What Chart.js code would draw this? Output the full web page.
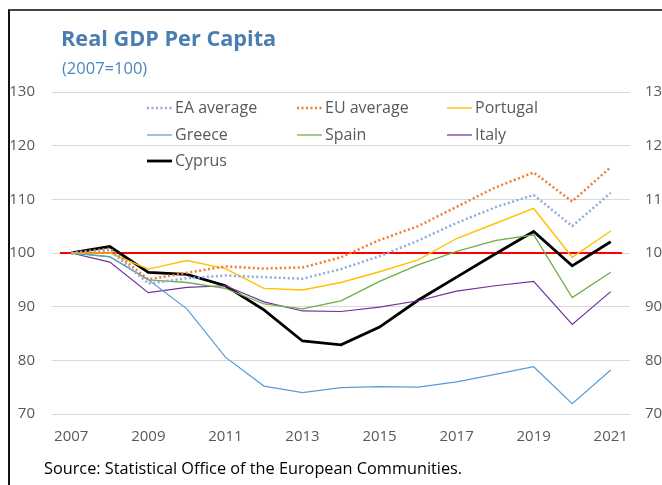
<!DOCTYPE html>
<html>
<head>
<meta charset="utf-8">
<script src="https://cdn.jsdelivr.net/npm/chart.js@4.4.1/dist/chart.umd.min.js"></script>
<style>
  html, body { margin: 0; padding: 0; background: #fff; overflow: hidden; }
  #wrap { position: relative; width: 662px; height: 485px; }
  #frame { position: absolute; left: 8px; top: 9px; width: 660px; height: 480px;
           border-left: 2px solid #111; border-top: 2px solid #444; }
  #title { position: absolute; left: 61px; top: 23px; font: bold 21.7px "Open Sans", sans-serif; color: #4a7eb0; }
  #subtitle { position: absolute; left: 62px; top: 56px; font: 16.5px "Open Sans", sans-serif; color: #4f86bf; }
  #source { position: absolute; left: 44px; top: 457px; font: 16.3px "Open Sans", sans-serif; color: #000; }
  canvas { position: absolute; left: 0; top: 0; }
</style>
</head>
<body>
<div id="wrap">
  <div id="frame"></div>
  <canvas id="chart" width="662" height="485"></canvas>
  <div id="title">Real GDP Per Capita</div>
  <div id="subtitle">(2007=100)</div>
  <div id="source">Source: Statistical Office of the European Communities.</div>
</div>
<script>
// years on the x axis
const years = ['2007','2008','2009','2010','2011','2012','2013','2014','2015','2016','2017','2018','2019','2020','2021'];

// index values, 2007 = 100
const eaAverage = [100, 100.5, 94.3, 95.3, 95.8, 95.5, 95.2, 97.0, 99.4, 102.3, 105.6, 108.5, 110.8, 105.0, 111.2];
const euAverage = [100, 100.8, 95.1, 96.3, 97.5, 97.1, 97.3, 99.2, 102.4, 105.0, 108.6, 112.2, 115.0, 109.6, 116.0];
const portugal  = [100, 100.0, 97.0, 98.6, 97.1, 93.4, 93.1, 94.5, 96.5, 98.7, 102.7, 105.5, 108.3, 99.2, 104.1];
const greece    = [100, 99.3, 95.0, 89.6, 80.6, 75.2, 74.0, 74.9, 75.1, 75.0, 76.0, 77.4, 78.8, 71.9, 78.2];
const spain     = [100, 99.3, 95.0, 94.5, 93.4, 90.5, 89.6, 91.1, 94.7, 97.8, 100.3, 102.3, 103.4, 91.7, 96.4];
const italy     = [100, 98.3, 92.6, 93.6, 93.9, 90.9, 89.2, 89.1, 89.9, 91.1, 92.9, 93.9, 94.7, 86.7, 92.8];
const cyprus    = [100, 101.2, 96.4, 96.0, 93.9, 89.4, 83.6, 82.9, 86.2, 91.2, 95.5, 99.8, 104.0, 97.6, 102.1];

const baseline = 100;
const yTicks = [70, 80, 90, 100, 110, 120, 130];

const font = '"Open Sans", sans-serif';
const gray = '#595959';

function series(label, data, color, width, dotted) {
    return {
        label: label,
        data: data,
        borderColor: color,
        backgroundColor: color,
        borderWidth: width,
        borderDash: dotted ? [2, 2.5] : [],
        pointRadius: 0,
        tension: 0,
        fill: false
    };
}

const datasets = [
    series('EA average', eaAverage, '#8faadc', 2.5, true),
    series('EU average', euAverage, '#ed7d31', 2.5, true),
    series('Portugal', portugal, '#ffc000', 1.4, false),
    series('Greece', greece, '#5b9bd5', 1.2, false),
    series('Spain', spain, '#70ad47', 1.3, false),
    series('Italy', italy, '#7030a0', 1.2, false),
    series('Cyprus', cyprus, '#000000', 2.8, false)
];

// red reference line at 100
const baselinePlugin = {
    id: 'baseline',
    beforeDatasetsDraw(chart) {
        const ctx = chart.ctx;
        const area = chart.chartArea;
        const y = chart.scales.y.getPixelForValue(baseline);
        ctx.save();
        ctx.strokeStyle = '#ff0000';
        ctx.lineWidth = 2;
        ctx.beginPath();
        ctx.moveTo(area.left + 8, y);
        ctx.lineTo(area.right - 8, y);
        ctx.stroke();
        ctx.restore();
    }
};

// legend in a 3 column grid inside the plot
const gridLegend = {
    id: 'gridLegend',
    afterDraw(chart) {
        const ctx = chart.ctx;
        const cols = [147, 297, 447];
        const rows = [108, 135, 161];
        ctx.save();
        ctx.font = '16px ' + font;
        ctx.textBaseline = 'middle';
        ctx.fillStyle = gray;
        chart.data.datasets.forEach((ds, i) => {
            const x = cols[i % 3];
            const y = rows[Math.floor(i / 3)];
            ctx.strokeStyle = ds.borderColor;
            ctx.lineWidth = ds.borderWidth;
            ctx.setLineDash(ds.borderDash);
            ctx.beginPath();
            ctx.moveTo(x, y);
            ctx.lineTo(x + 25, y);
            ctx.stroke();
            ctx.setLineDash([]);
            ctx.fillText(ds.label, x + 28, y);
        });
        ctx.restore();
    }
};

const yAxis = (pos, width, pad, grid) => ({
    position: pos,
    min: 70,
    max: 130,
    afterBuildTicks: s => { s.ticks = yTicks.map(v => ({ value: v })); },
    afterFit: s => { s.width = width; },
    grid: { display: grid, drawOnChartArea: grid, drawTicks: false, color: '#d9d9d9', lineWidth: 1 },
    border: { display: false },
    ticks: { padding: pad, color: gray, font: { family: font, size: 15 } }
});

const ctx = document.getElementById('chart').getContext('2d');
const myChart = new Chart(ctx, {
    type: 'line',
    data: { labels: years, datasets: datasets },
    options: {
        responsive: false,
        animation: false,
        layout: { padding: { top: 92, bottom: 21, left: 0, right: 0 } },
        plugins: { legend: { display: false }, tooltip: { enabled: false } },
        scales: {
            x: {
                offset: true,
                afterFit: s => { s.height = 50; },
                grid: { display: false, drawTicks: false },
                border: { display: false },
                ticks: {
                    autoSkip: false,
                    maxRotation: 0,
                    padding: 14,
                    color: gray,
                    font: { family: font, size: 15 },
                    callback: (v, i) => (i % 2 === 0 ? years[i] : '')
                }
            },
            y: yAxis('left', 52, 17, true),
            y2: yAxis('right', 32, 15, false)
        }
    },
    plugins: [baselinePlugin, gridLegend]
});
</script>
</body>
</html>
